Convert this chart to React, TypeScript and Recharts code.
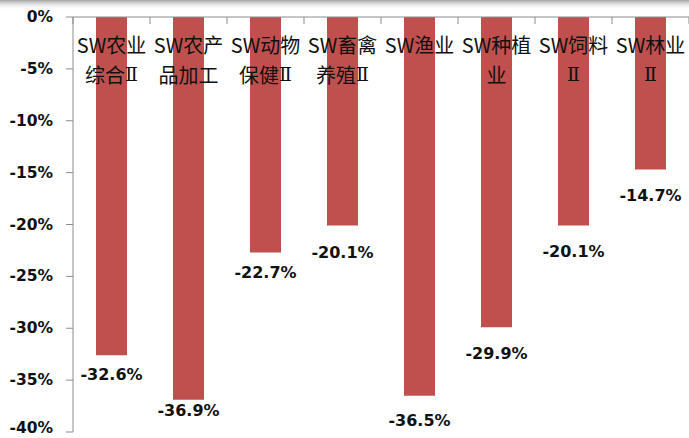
import React from 'react';
import { BarChart, Bar, XAxis, YAxis, LabelList } from 'recharts';

// ---- data ----
const categories = [
  'SW农业\n综合Ⅱ',
  'SW农产\n品加工',
  'SW动物\n保健Ⅱ',
  'SW畜禽\n养殖Ⅱ',
  'SW渔业',
  'SW种植\n业',
  'SW饲料\nⅡ',
  'SW林业\nⅡ',
];
const values = [-32.6, -36.9, -22.7, -20.1, -36.5, -29.9, -20.1, -14.7];
const yTicks = [0, -5, -10, -15, -20, -25, -30, -35, -40];

// ---- layout / style constants ----
const W = 689;
const H = 438;
const MARGIN = { top: 17, right: 0, bottom: 6, left: 0 };
const Y_AXIS_W = 73;
const PLOT_W = W - MARGIN.left - MARGIN.right - Y_AXIS_W;
const BAND = PLOT_W / categories.length;
const AXIS_COLOR = '#8c8c8c';
const BAR_COLOR = '#C0504D';
const TEXT_COLOR = '#111111';
// per-label vertical gap (label centre below bar end), as placed in the original
const LABEL_GAP = [19, 11, 20, 27, 25, 26, 26, 26];

const data = categories.map((c, i) => ({ name: c, value: values[i] }));

const renderLine = (ln: string) =>
  ln.split(/(Ⅱ)/).filter((s) => s.length > 0).map((part, k) =>
    part === 'Ⅱ' ? (
      <tspan key={k} fontFamily="'DejaVu Serif', serif" fontSize={19}>
        {part}
      </tspan>
    ) : (
      <tspan key={k}>{part}</tspan>
    )
  );

const CategoryTick = (props: any) => {
  const { x, y, payload, index, visibleTicksCount } = props;
  const lines = String(payload.value).split('\n');
  const left = x - BAND / 2;
  const right = x + BAND / 2;
  return (
    <g>
      <line x1={left} y1={y} x2={left} y2={y + 7} stroke={AXIS_COLOR} strokeWidth={1} />
      {index === visibleTicksCount - 1 && (
        <line x1={right} y1={y} x2={right} y2={y + 7} stroke={AXIS_COLOR} strokeWidth={1} />
      )}
      {lines.map((ln, i) => (
        <text
          key={i}
          x={x}
          y={y + 27 + i * 30}
          textAnchor="middle"
          dominantBaseline="central"
          fontFamily="'Noto Sans CJK SC', 'Noto Sans', sans-serif"
          fontSize={20}
          fill={TEXT_COLOR}
        >
          {renderLine(ln)}
        </text>
      ))}
    </g>
  );
};

const ValueLabel = (props: any) => {
  const { x, y, width, height, value, index } = props;
  const bottom = Math.max(y, y + height);
  return (
    <text
      x={x + width / 2}
      y={bottom + LABEL_GAP[index]}
      textAnchor="middle"
      dominantBaseline="central"
      fontFamily="'DejaVu Sans', sans-serif"
      fontWeight="bold"
      fontSize={16}
      fill={TEXT_COLOR}
    >
      {`${Number(value).toFixed(1)}%`}
    </text>
  );
};

const YTick = (props: any) => {
  const { x, y, payload } = props;
  return (
    <text
      x={x}
      y={Math.min(y, H - 10)}
      textAnchor="end"
      dominantBaseline="central"
      fontFamily="'DejaVu Sans', sans-serif"
      fontWeight="bold"
      fontSize={15.5}
      fill={TEXT_COLOR}
    >
      {`${payload.value}%`}
    </text>
  );
};

export default function App() {
  return (
    <div style={{ position: 'absolute', left: 0, top: 0, width: W, height: H, background: '#fff' }}>
      <svg width={W} height={12} style={{ position: 'absolute', left: 0, top: 0 }}>
        <defs>
          <linearGradient id="shadow" x1="0" y1="0" x2="0" y2="1">
            <stop offset="0%" stopColor="#9a9a9a" stopOpacity={0.9} />
            <stop offset="100%" stopColor="#ffffff" stopOpacity={0} />
          </linearGradient>
        </defs>
        <rect x={0} y={0} width={W} height={10} fill="url(#shadow)" />
      </svg>
      <BarChart width={W} height={H} data={data} margin={MARGIN} barSize={31}>
        <XAxis
          dataKey="name"
          orientation="top"
          mirror
          height={30}
          axisLine={{ stroke: AXIS_COLOR }}
          tickLine={false}
          tickSize={0}
          tickMargin={0}
          interval={0}
          tick={<CategoryTick />}
        />
        <YAxis
          type="number"
          domain={[-40, 0]}
          ticks={yTicks}
          interval={0}
          width={Y_AXIS_W}
          axisLine={{ stroke: AXIS_COLOR }}
          tickLine={{ stroke: AXIS_COLOR }}
          tickSize={7}
          tickMargin={13}
          tick={<YTick />}
        />
        <Bar dataKey="value" fill={BAR_COLOR} isAnimationActive={false}>
          <LabelList dataKey="value" content={<ValueLabel />} />
        </Bar>
      </BarChart>
    </div>
  );
}
